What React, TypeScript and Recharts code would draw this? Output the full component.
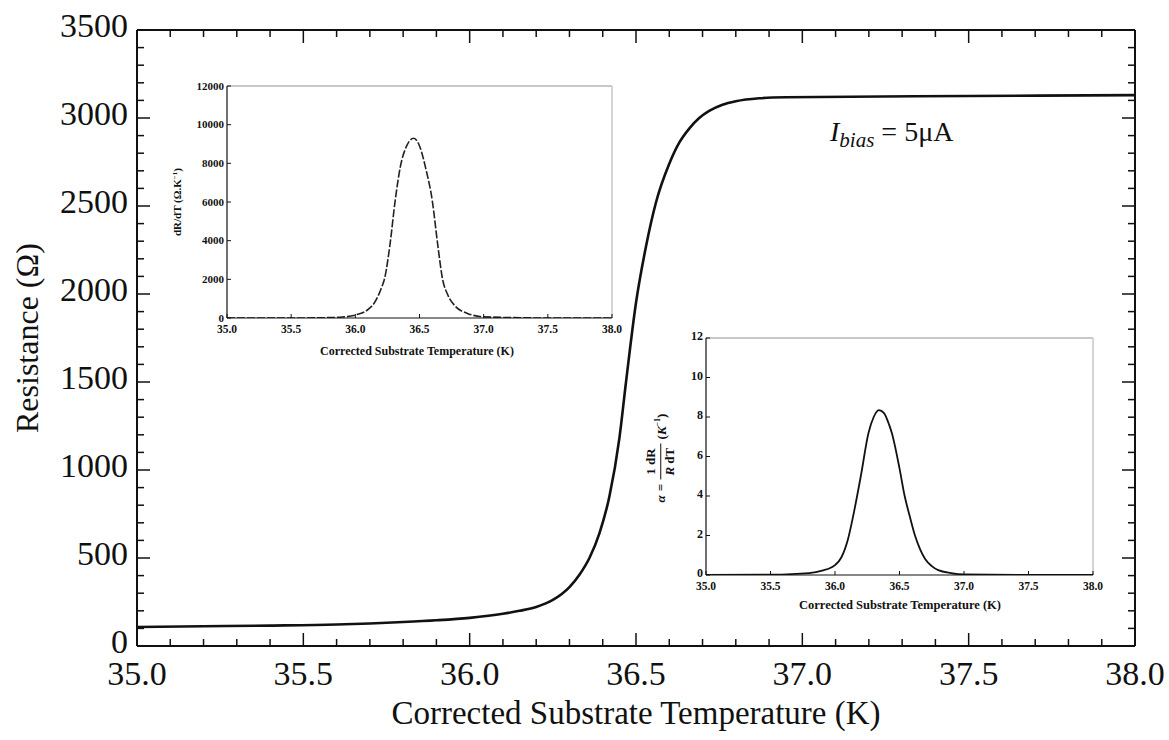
import React from "react";
import { LineChart, Line, XAxis, YAxis, ReferenceLine } from "recharts";

// main R(T) curve
const temps = [35.0, 35.2, 35.4, 35.6, 35.8, 35.9, 36.0, 36.1, 36.15, 36.2, 36.25, 36.3, 36.33, 36.36, 36.39, 36.42, 36.45, 36.47, 36.5, 36.53, 36.56, 36.6, 36.63, 36.66, 36.69, 36.72, 36.76, 36.8, 36.87, 36.95, 37.5, 38.0];
const resistance = [108, 112, 116, 122, 136, 146, 160, 183, 200, 222, 262, 335, 405, 500, 640, 850, 1180, 1500, 1950, 2270, 2520, 2740, 2860, 2940, 3000, 3040, 3075, 3095, 3112, 3118, 3125, 3130];

// inset 1: dR/dT
const inset1Temps = [35.0, 35.5, 35.8, 35.9, 36.0, 36.1, 36.15, 36.2, 36.23, 36.27, 36.31, 36.35, 36.4, 36.455, 36.5, 36.55, 36.6, 36.64, 36.68, 36.72, 36.78, 36.87, 37.0, 37.5, 38.0];
const inset1DrDt = [0, 0, 20, 50, 150, 450, 800, 1500, 2100, 3800, 6050, 7800, 8900, 9300, 8900, 7700, 6050, 3900, 2000, 1200, 600, 250, 60, 0, 0];

// inset 2: alpha
const inset2Temps = [35.0, 35.5, 35.8, 35.9, 36.0, 36.05, 36.1, 36.14, 36.2, 36.26, 36.3, 36.34, 36.38, 36.42, 36.44, 36.5, 36.54, 36.58, 36.62, 36.66, 36.7, 36.75, 36.8, 36.9, 37.0, 37.5, 38.0];
const inset2Alpha = [0, 0.02, 0.1, 0.22, 0.5, 0.9, 1.8, 2.96, 5.0, 7.2, 8.0, 8.35, 8.2, 7.6, 7.2, 5.4, 4.0, 2.96, 2.0, 1.3, 0.8, 0.45, 0.25, 0.1, 0.03, 0, 0];

const xTickLabels = [35.0, 35.5, 36.0, 36.5, 37.0, 37.5, 38.0];
const inset1YTicks = [0, 2000, 4000, 6000, 8000, 10000, 12000];
const inset2YTicks = [0, 2, 4, 6, 8, 10, 12];

const mainData = temps.map((t, i) => ({ t, r: resistance[i] }));
const inset1Data = inset1Temps.map((t, i) => ({ t, v: inset1DrDt[i] }));
const inset2Data = inset2Temps.map((t, i) => ({ t, v: inset2Alpha[i] }));

// minor tick positions (0.1 K and 100 ohm)
const xMinor: number[] = [];
for (let i = 0; i <= 30; i++) xMinor.push(Math.round((35 + i * 0.1) * 10) / 10);
const yMinor: number[] = [];
for (let i = 0; i <= 35; i++) yMinor.push(i * 100);

const INK = "#111";
const SERIF = '"Liberation Serif", "Times New Roman", serif';

const isMajor = (v: number, step: number) => {
  const k = v / step;
  return Math.abs(k - Math.round(k)) < 1e-6;
};

type TickOpts = {
  side: "bottom" | "top" | "left" | "right";
  step: number;
  major: number;
  minor: number;
  label?: (v: number) => string;
  fontSize?: number;
  gap?: number;
  dy?: string;
  bold?: boolean;
  width?: number;
};

function makeTick(o: TickOpts) {
  return (props: any) => {
    const { x, y, payload } = props;
    const v = payload.value as number;
    const big = isMajor(v, o.step);
    const len = big ? o.major : o.minor;
    const sw = o.width ?? 1.5;
    let line = null;
    let text = null;
    if (o.side === "bottom") {
      line = <line x1={x} x2={x} y1={y} y2={y - len} stroke={INK} strokeWidth={sw} />;
      if (big && o.label)
        text = (
          <text x={x} y={y + (o.gap ?? 0)} textAnchor="middle" fontFamily={SERIF} fontSize={o.fontSize}
            fontWeight={o.bold ? "bold" : "normal"} fill={INK}>
            {o.label(v)}
          </text>
        );
    } else if (o.side === "top") {
      line = <line x1={x} x2={x} y1={y} y2={y + len} stroke={INK} strokeWidth={sw} />;
    } else if (o.side === "left") {
      line = <line x1={x} x2={x + len} y1={y} y2={y} stroke={INK} strokeWidth={sw} />;
      if (big && o.label)
        text = (
          <text x={x - (o.gap ?? 0)} y={y} dy={o.dy ?? "0.32em"} textAnchor="end" fontFamily={SERIF} fontSize={o.fontSize}
            fontWeight={o.bold ? "bold" : "normal"} fill={INK}>
            {o.label(v)}
          </text>
        );
    } else {
      line = <line x1={x} x2={x - len} y1={y} y2={y} stroke={INK} strokeWidth={sw} />;
    }
    return (
      <g>
        {len > 0 && line}
        {text}
      </g>
    );
  };
}

const mainBottom = makeTick({ side: "bottom", step: 0.5, major: 13, minor: 7, label: (v) => v.toFixed(1), fontSize: 34, gap: 39 });
const mainTop = makeTick({ side: "top", step: 0.5, major: 13, minor: 7 });
const mainLeft = makeTick({ side: "left", step: 500, major: 13, minor: 7, label: (v) => String(v), fontSize: 34, gap: 9, dy: "0.2em" });
const mainRight = makeTick({ side: "right", step: 500, major: 13, minor: 7 });

const insetBottom = makeTick({ side: "bottom", step: 0.5, major: 4, minor: 0, label: (v) => v.toFixed(1), fontSize: 11.5, gap: 15, bold: true, width: 1 });
const inset1Left = makeTick({ side: "left", step: 2000, major: 4, minor: 0, label: (v) => String(v), fontSize: 11, gap: 3, bold: true, width: 1 });
const inset2Left = makeTick({ side: "left", step: 2, major: 4, minor: 0, label: (v) => String(v), fontSize: 12, gap: 3, bold: true, width: 1, dy: "0.2em" });

const abs = (left: number, top: number): React.CSSProperties => ({ position: "absolute", left, top });

const rotated = (cx: number, cy: number, extra: React.CSSProperties = {}): React.CSSProperties => ({
  position: "absolute",
  left: cx,
  top: cy,
  transform: "translate(-50%, -50%) rotate(-90deg)",
  whiteSpace: "nowrap",
  fontFamily: SERIF,
  color: INK,
  ...extra,
});

export default function App() {
  return (
    <div style={{ position: "absolute", left: 0, top: 0, width: 1169, height: 740, background: "#fff", fontFamily: SERIF }}>
      <div style={abs(0, 0)}>
        <LineChart width={1169} height={740} data={mainData} margin={{ top: 29, right: 30, bottom: 34, left: 57 }}>
          <XAxis dataKey="t" type="number" domain={[35, 38]} ticks={xMinor} interval={0} tickSize={0} tickMargin={0}
            height={60} tick={mainBottom} axisLine={{ stroke: INK, strokeWidth: 2 }} allowDataOverflow />
          <XAxis xAxisId="top" orientation="top" dataKey="t" type="number" domain={[35, 38]} ticks={xMinor} interval={0}
            tickSize={0} tickMargin={0} height={1} tick={mainTop} axisLine={{ stroke: INK, strokeWidth: 2 }} allowDataOverflow />
          <YAxis type="number" domain={[0, 3500]} ticks={yMinor} interval={0} tickSize={0} tickMargin={0} width={80}
            tick={mainLeft} axisLine={{ stroke: INK, strokeWidth: 2 }} allowDataOverflow />
          <YAxis yAxisId="right" orientation="right" type="number" domain={[0, 3500]} ticks={yMinor} interval={0}
            tickSize={0} tickMargin={0} width={4} tick={mainRight} axisLine={{ stroke: INK, strokeWidth: 2 }} allowDataOverflow />
          <Line type="monotone" dataKey="r" stroke={INK} strokeWidth={2.6} dot={false} isAnimationActive={false} />
        </LineChart>
      </div>

      {/* inset 1: dR/dT */}
      <div style={abs(150, 70)}>
        <LineChart width={480} height={300} data={inset1Data} margin={{ top: 16, right: 18, bottom: 0, left: 0 }}>
          <XAxis dataKey="t" type="number" domain={[35, 38]} ticks={xTickLabels} interval={0} tickSize={0} tickMargin={0}
            height={52} tick={insetBottom} axisLine={{ stroke: INK, strokeWidth: 1.2 }} allowDataOverflow />
          <YAxis type="number" domain={[0, 12000]} ticks={inset1YTicks} interval={0} tickSize={0} tickMargin={0} width={77}
            tick={inset1Left} axisLine={{ stroke: INK, strokeWidth: 1.2 }} allowDataOverflow />
          <ReferenceLine y={12000} stroke="#c8c8c8" strokeWidth={2} />
          <ReferenceLine x={38} stroke="#d4d4d4" strokeWidth={2} />
          <Line type="monotone" dataKey="v" stroke="#222" strokeWidth={1.6} strokeDasharray="8 2" dot={false} isAnimationActive={false} />
        </LineChart>
      </div>
      <div style={{ ...abs(417, 344), transform: "translateX(-50%)", fontSize: 12, fontWeight: "bold", whiteSpace: "nowrap", color: INK }}>
        Corrected Substrate Temperature (K)
      </div>
      <div style={rotated(177, 202, { fontSize: 11, fontWeight: "bold" })}>
        dR/dT (Ω.K<sup style={{ fontSize: 7 }}>−1</sup>)
      </div>

      {/* inset 2: alpha */}
      <div style={abs(600, 320)}>
        <LineChart width={510} height={300} data={inset2Data} margin={{ top: 18, right: 17, bottom: 0, left: 0 }}>
          <XAxis dataKey="t" type="number" domain={[35, 38]} ticks={xTickLabels} interval={0} tickSize={0} tickMargin={0}
            height={45} tick={insetBottom} axisLine={{ stroke: INK, strokeWidth: 1.2 }} allowDataOverflow />
          <YAxis type="number" domain={[0, 12]} ticks={inset2YTicks} interval={0} tickSize={0} tickMargin={0} width={106}
            tick={inset2Left} axisLine={{ stroke: INK, strokeWidth: 1.2 }} allowDataOverflow />
          <ReferenceLine y={12} stroke="#c8c8c8" strokeWidth={2} />
          <ReferenceLine x={38} stroke="#d4d4d4" strokeWidth={2} />
          <Line type="monotone" dataKey="v" stroke={INK} strokeWidth={1.8} dot={false} isAnimationActive={false} />
        </LineChart>
      </div>
      <div style={{ ...abs(900, 598), transform: "translateX(-50%)", fontSize: 12.5, fontWeight: "bold", whiteSpace: "nowrap", color: INK }}>
        Corrected Substrate Temperature (K)
      </div>
      <div style={rotated(661, 458, { fontSize: 13, fontWeight: "bold", display: "flex", alignItems: "center", gap: 4 })}>
        <span style={{ fontStyle: "italic" }}>α</span>
        <span>=</span>
        <span style={{ display: "inline-flex", flexDirection: "column", alignItems: "center", lineHeight: 1.25 }}>
          <span style={{ borderBottom: "1px solid #111", padding: "0 5px 1px" }}>1 dR</span>
          <span style={{ paddingTop: 1 }}><i>R</i> dT</span>
        </span>
        <span>
          (<i>K</i>
          <sup style={{ fontSize: 8 }}>−1</sup>)
        </span>
      </div>

      {/* main titles */}
      <div style={{ ...abs(636, 695), transform: "translateX(-50%)", fontSize: 33, lineHeight: "36px", whiteSpace: "nowrap", color: INK }}>
        Corrected Substrate Temperature (K)
      </div>
      <div style={rotated(27, 338, { fontSize: 32 })}>Resistance (Ω)</div>

      <div style={{ ...abs(830, 116), fontSize: 28, whiteSpace: "nowrap", color: INK }}>
        <i>I</i>
        <sub style={{ fontSize: 21, fontStyle: "italic", verticalAlign: "-0.3em" }}>bias</sub>
        <span> = 5μA</span>
      </div>
    </div>
  );
}
